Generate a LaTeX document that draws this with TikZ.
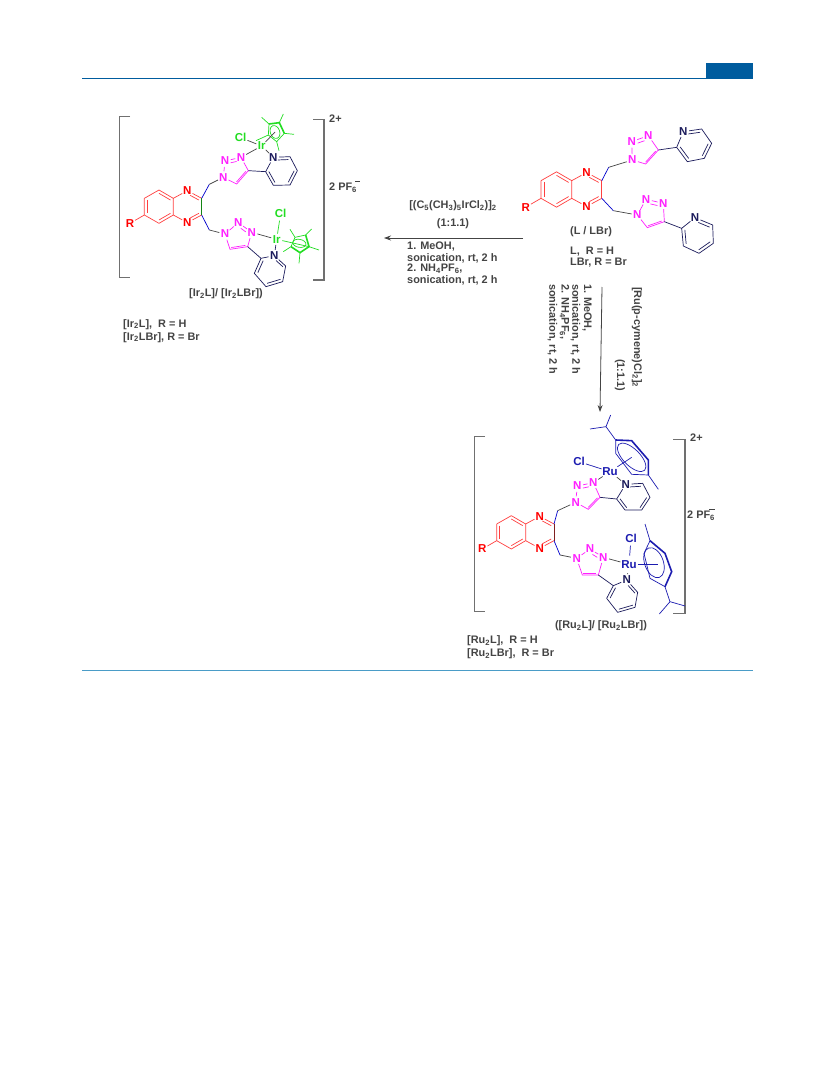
\documentclass[tikz,border=0pt]{standalone}
\usepackage{fontspec}
\setmainfont{Liberation Sans}
\usetikzlibrary{calc,arrows.meta}
\definecolor{hdr}{HTML}{005C9E}
\definecolor{rul}{HTML}{4A9CC7}
\definecolor{txt}{HTML}{444444}
\definecolor{brk}{HTML}{707070}
\definecolor{qred}{HTML}{FF4040}
\definecolor{mag}{HTML}{FF20FF}
\definecolor{nav}{HTML}{1C1C5C}
\definecolor{irg}{HTML}{22DD22}
\definecolor{rub}{HTML}{1C1CB0}
\definecolor{lnk}{HTML}{444444}
\tikzset{
 lab/.style={font=\bfseries\fontsize{10.9}{12}\selectfont,text=txt,inner sep=0pt},
 labl/.style={lab,anchor=west},
 rot/.style={lab,anchor=west,rotate=-90},
 atom/.style={font=\bfseries\fontsize{11.5}{12}\selectfont,circle,inner sep=0pt,minimum size=9.5pt},
 bond/.style={line width=.7pt},
 brack/.style={draw=brk,line width=1pt},
 arrowln/.style={draw=txt,line width=.8pt,-{Stealth[length=7pt,width=5pt]}},
 loc/.style={x=.33333pt,y=-.33333pt}
}
\newcommand{\mDbl}[4][]{\draw[bond,#1] ($(#2)!.2!(#4)$) -- ($(#3)!.2!(#4)$);}
% prefix, top-left vertex, scale, colour of the C2-C3 bond
\newcommand{\mQuin}[4]{%
 \begin{scope}[shift={#2},scale=#3]
 \coordinate (#1a) at (0,0); \coordinate (#1b) at (44,-25); \coordinate (#1c) at (87,0);
 \coordinate (#1d) at (87,50); \coordinate (#1e) at (44,75); \coordinate (#1f) at (0,50);
 \coordinate (#1g) at (172,0); \coordinate (#1h) at (172,50);
 \coordinate (#1o) at (43.5,25); \coordinate (#1p) at (129.5,25);
 \node[atom,text=red] (#1n) at (129,-23) {N};
 \node[atom,text=red] (#1k) at (129,73) {N};
 \node[atom,text=red] (#1r) at (-43,75) {R};
 \end{scope}
 \draw[bond,qred] (#1a)--(#1b)--(#1c)--(#1d)--(#1e)--(#1f)--(#1a) (#1c)--(#1n)--(#1g) (#1d)--(#1k)--(#1h) (#1f)--(#1r);
 \draw[bond,#4] (#1g)--(#1h);
 \mDbl[qred]{#1a}{#1f}{#1o}\mDbl[qred]{#1b}{#1c}{#1o}\mDbl[qred]{#1d}{#1e}{#1o}
 \mDbl[qred,shorten <=3pt]{#1n}{#1g}{#1p}\mDbl[qred,shorten <=3pt]{#1k}{#1h}{#1p}
}
% prefix, N1, N2, N3, C4, C5
\newcommand{\mTri}[6]{%
 \node[atom,text=mag] (#1a) at #2 {N}; \node[atom,text=mag] (#1b) at #3 {N};
 \node[atom,text=mag] (#1c) at #4 {N}; \coordinate (#1d) at #5; \coordinate (#1e) at #6;
 \coordinate (#1m) at ($(#1a)!.5!(#1d)$);
 \draw[bond,mag] (#1a)--(#1b)--(#1c)--(#1d)--(#1e)--(#1a);
 \mDbl[mag]{#1d}{#1e}{#1m}\mDbl[mag,shorten <=3.5pt,shorten >=3.5pt]{#1b}{#1c}{#1m}
}
% prefix, a, N, c, d, e, f, triazole C4 to join
\newcommand{\mPyr}[8]{%
 \coordinate (#1a) at #2; \node[atom,text=nav] (#1n) at #3 {N}; \coordinate (#1c) at #4;
 \coordinate (#1d) at #5; \coordinate (#1e) at #6; \coordinate (#1f) at #7;
 \coordinate (#1m) at ($(#1a)!.5!(#1d)$);
 \draw[bond,nav] (#1a)--(#1n)--(#1c)--(#1d)--(#1e)--(#1f)--(#1a) (#1a)--(#8);
 \mDbl[nav,shorten <=3pt]{#1n}{#1c}{#1m}\mDbl[nav]{#1d}{#1e}{#1m}\mDbl[nav]{#1f}{#1a}{#1m}
}
% link from a quinoxaline carbon via CH2 to a triazole N
\newcommand{\mLink}[4]{%
 \coordinate (#1) at #2;
 \draw[bond,blue!80!black] (#3)--(#1);
 \draw[bond,lnk] (#1)--(#4);
}
\begin{document}
\begin{tikzpicture}[x=1pt,y=-1pt]
\useasboundingbox (0,0) rectangle (833,1091);
\fill[white] (0,0) rectangle (833,1091);
% page furniture
\coordinate (hl) at (82,78.5); \coordinate (hr) at (753,78.5);
\coordinate (fl) at (82,670.5); \coordinate (fr) at (753,670.5);
\draw[hdr,line width=1pt] (hl)--(hr);
\draw[rul,line width=.8pt] (fl)--(fr);
\fill[hdr] (706,63) rectangle (753,79);

%% ---------- free ligand
\begin{scope}[shift={(500,110)},loc]
 \mQuin{q}{(123,212)}{1.06}{qred}
 \mTri{t}{(397,150)}{(395,95)}{(445,77)}{(475,120)}{(437,162)}
 \mPyr{p}{(530,112)}{(550,65)}{(605,57)}{(635,100)}{(613,145)}{(562,155)}{td}
 \mLink{ch}{(326,172)}{qg}{ta}
 \mTri{u}{(412,315)}{(438,268)}{(490,280)}{(493,335)}{(442,353)}
 \mPyr{w}{(545,355)}{(585,323)}{(638,345)}{(640,400)}{(597,430)}{(550,408)}{ud}
 \mLink{cj}{(340,302)}{qh}{ua}
\end{scope}

%% ---------- iridium complex
\begin{scope}[shift={(100,100)},loc]
 \draw[brack] (90,50)--(58,50)--(58,533)--(90,533);
 \draw[brack,line width=1.4pt] (640,58)--(672,58)--(672,540)--(640,540);
 \mQuin{iq}{(133,295)}{1}{irg!60!black}
 \mTri{it}{(370,232)}{(375,183)}{(423,172)}{(445,212)}{(410,252)}
 \mPyr{ip}{(497,215)}{(520,172)}{(570,170)}{(592,212)}{(570,255)}{(520,256)}{itd}
 \mLink{ich}{(328,253)}{iqg}{ita}
 \mTri{iu}{(375,402)}{(415,368)}{(455,397)}{(443,440)}{(390,448)}
 \mPyr{iw}{(483,475)}{(523,467)}{(557,498)}{(548,545)}{(498,560)}{(463,520)}{iud}
 \mLink{icj}{(328,390)}{iqh}{iua}
 % upper Cp*Ir
 \node[atom,text=irg] (ir1) at (485,138) {Ir};
 \node[atom,text=irg] (icl1) at (422,113) {Cl};
 \draw[bond,lnk] (ir1)--(icl1) (ir1)--(itc) (ir1)--(ipn);
 \coordinate (ia1) at (507,72); \coordinate (ia2) at (538,68); \coordinate (ia3) at (553,100);
 \coordinate (ia4) at (530,125); \coordinate (ia5) at (505,105); \coordinate (iac) at (525,96);
 \coordinate (ib1) at (485,52); \coordinate (ib2) at (550,42); \coordinate (ib3) at (582,103);
 \coordinate (ib4) at (537,152); \coordinate (ib5) at (468,122);
 \draw[bond,irg] (ia1)--(ib1) (ia2)--(ib2) (ia3)--(ib3) (ia4)--(ib4) (ia5)--(ib5) (ia3)--(ia4)--(ia5)--(ia1);
 \draw[irg,line width=1.6pt] (ia1)--(ia2)--(ia3);
 \draw[bond,irg,rotate around={-70:(iac)}] (iac) ellipse [x radius=20,y radius=14];
 \draw[bond,lnk] (ir1)--(iac);
 % lower Cp*Ir
 \node[atom,text=irg] (ir2) at (530,418) {Ir};
 \node[atom,text=irg] (icl2) at (542,340) {Cl};
 \draw[bond,irg] (ir2)--(icl2);
 \draw[bond,lnk] (ir2)--(iuc);
 \draw[bond,nav] (ir2)--(iwn);
 \coordinate (ic1) at (585,412); \coordinate (ic2) at (617,405); \coordinate (ic3) at (627,440);
 \coordinate (ic4) at (600,458); \coordinate (ic5) at (573,440); \coordinate (icc) at (598,430);
 \coordinate (id1) at (570,388); \coordinate (id2) at (635,387); \coordinate (id3) at (657,450);
 \coordinate (id4) at (597,490); \coordinate (id5) at (550,455);
 \draw[bond,irg] (ic1)--(id1) (ic2)--(id2) (ic3)--(id3) (ic4)--(id4) (ic5)--(id5) (ic1)--(ic2) (ic5)--(ic1);
 \draw[irg,line width=1.6pt] (ic2)--(ic3)--(ic4)--(ic5);
 \draw[bond,irg,rotate around={-10:(icc)}] (icc) ellipse [x radius=20,y radius=12];
 \draw[bond,irg] (ir2)--(ic3);
\end{scope}

%% ---------- ruthenium complex
\begin{scope}[shift={(460,420)},loc]
 \draw[brack] (75,50)--(42,50)--(42,573)--(75,573);
 \draw[brack,line width=1.4pt] (640,58)--(675,58)--(675,580)--(640,580);
 \mQuin{rq}{(110,312)}{1}{qred!50!black}
 \mTri{rt}{(347,247)}{(352,198)}{(400,188)}{(420,232)}{(385,268)}
 \mPyr{rp}{(470,237)}{(497,193)}{(548,190)}{(570,232)}{(545,270)}{(495,270)}{rtd}
 \mLink{rch}{(293,272)}{rqg}{rta}
 \mTri{ru}{(350,415)}{(390,387)}{(430,412)}{(415,465)}{(367,465)}
 \mPyr{rw}{(460,497)}{(500,480)}{(533,517)}{(525,562)}{(473,577)}{(440,535)}{rud}
 \mLink{rcj}{(300,405)}{rqh}{rua}
 % upper cymene-Ru
 \node[atom,text=rub] (ru1) at (450,155) {Ru};
 \node[atom,text=rub] (rcl1) at (357,125) {Cl};
 \draw[bond,rub] (ru1)--(rcl1);
 \draw[bond,lnk] (ru1)--(rtc) (ru1)--(rpn);
 \coordinate (ra1) at (467,60); \coordinate (ra2) at (515,62); \coordinate (ra3) at (565,120);
 \coordinate (ra4) at (565,165); \coordinate (ra5) at (515,163); \coordinate (ra6) at (467,100);
 \coordinate (rac) at (515,112);
 \coordinate (rb1) at (438,20); \coordinate (rb2) at (452,-15); \coordinate (rb3) at (390,27); \coordinate (rb4) at (595,208);
 \draw[bond,rub] (ra4)--(ra5)--(ra6)--(ra1) (ra1)--(rb1)--(rb2) (rb1)--(rb3) (ra4)--(rb4);
 \draw[rub,line width=1.6pt] (ra1)--(ra2)--(ra3)--(ra4);
 \draw[bond,rub,rotate around={-45:(rac)}] (rac) ellipse [x radius=55,y radius=25];
 \draw[bond,rub] (ru1)--(rac);
 % lower cymene-Ru
 \node[atom,text=rub] (ru2) at (507,433) {Ru};
 \node[atom,text=rub] (rcl2) at (513,355) {Cl};
 \draw[bond,rub] (ru2)--(rcl2);
 \draw[bond,lnk] (ru2)--(ruc) (ru2)--(rwn);
 \coordinate (rc1) at (570,362); \coordinate (rc2) at (615,400); \coordinate (rc3) at (635,455);
 \coordinate (rc4) at (615,500); \coordinate (rc5) at (570,475); \coordinate (rc6) at (552,400);
 \coordinate (rcc) at (582,428); \coordinate (rcx) at (595,433);
 \coordinate (rd1) at (555,312); \coordinate (rd2) at (630,545); \coordinate (rd3) at (598,582); \coordinate (rd4) at (675,558);
 \draw[bond,rub] (rc4)--(rc5)--(rc6)--(rc1) (rc1)--(rd1) (rc4)--(rd2)--(rd3) (rd2)--(rd4);
 \draw[rub,line width=1.6pt] (rc1)--(rc2)--(rc3)--(rc4);
 \draw[bond,rub,rotate around={-70:(rcc)}] (rcc) ellipse [x radius=47,y radius=28];
 \draw[bond,rub] (ru2)--(rcx);
\end{scope}

%% ---------- arrows
\coordinate (a1s) at (523,238); \coordinate (a1e) at (384,238);
\draw[arrowln] (a1s)--(a1e);
\coordinate (a2s) at (602,287); \coordinate (a2e) at (600,412);
\draw[arrowln] (a2s)--(a2e);

%% ---------- texts
\node[lab] (tA) at (453,206) {[(C\textsubscript{5}(CH\textsubscript{3})\textsubscript{5}IrCl\textsubscript{2})]\textsubscript{2}};
\node[lab] (tB) at (453,224) {(1:1.1)};
\node[labl] (tC) at (407,247) {1. MeOH,};
\node[labl] (tD) at (407,258) {sonication, rt, 2 h};
\node[labl] (tE) at (407,269) {2. NH\textsubscript{4}PF\textsubscript{6},};
\node[labl] (tF) at (407,280) {sonication, rt, 2 h};

\node[rot] (rA) at (587,284) {1. MeOH,};
\node[rot] (rB) at (575.5,284) {sonication, rt, 2 h};
\node[rot] (rC) at (564.5,284) {2. NH\textsubscript{4}PF\textsubscript{6},};
\node[rot] (rD) at (552.5,284) {sonication, rt, 2 h};
\node[rot] (rE) at (637,287) {[Ru(p-cymene)Cl\textsubscript{2}]\textsubscript{2}};
\node[rot] (rF) at (620,359) {(1:1.1)};

\node[lab] (lA) at (591,232) {(L / LBr)};
\node[labl] (lB) at (570,252) {L,\ \ R = H};
\node[labl] (lC) at (570,263) {LBr, R = Br};

\node[labl] (iA) at (329,119) {2+};
\node[labl] (iB) at (329,188) {2 PF\textsubscript{6}};
\coordinate (iMa) at (355,181); \coordinate (iMb) at (360,181);
\draw[txt,line width=.9pt] (iMa)--(iMb);
\node[lab] (iC) at (226,294) {[Ir\textsubscript{2}L]/ [Ir\textsubscript{2}LBr])};
\node[labl] (iD) at (123,324.5) {[Ir\textsubscript{2}L],\ \ R = H};
\node[labl] (iE) at (123,337.5) {[Ir\textsubscript{2}LBr], R = Br};

\node[labl] (ruA) at (690,438) {2+};
\node[labl] (ruB) at (687,516) {2 PF\textsubscript{6}};
\coordinate (ruMa) at (709,509); \coordinate (ruMb) at (715,509);
\draw[txt,line width=.9pt] (ruMa)--(ruMb);
\node[lab] (ruC) at (601,626) {([Ru\textsubscript{2}L]/ [Ru\textsubscript{2}LBr])};
\node[labl] (ruD) at (467,641) {[Ru\textsubscript{2}L],\ \ R = H};
\node[labl] (ruE) at (467,654) {[Ru\textsubscript{2}LBr],\ \ R = Br};
\end{tikzpicture}
\end{document}
